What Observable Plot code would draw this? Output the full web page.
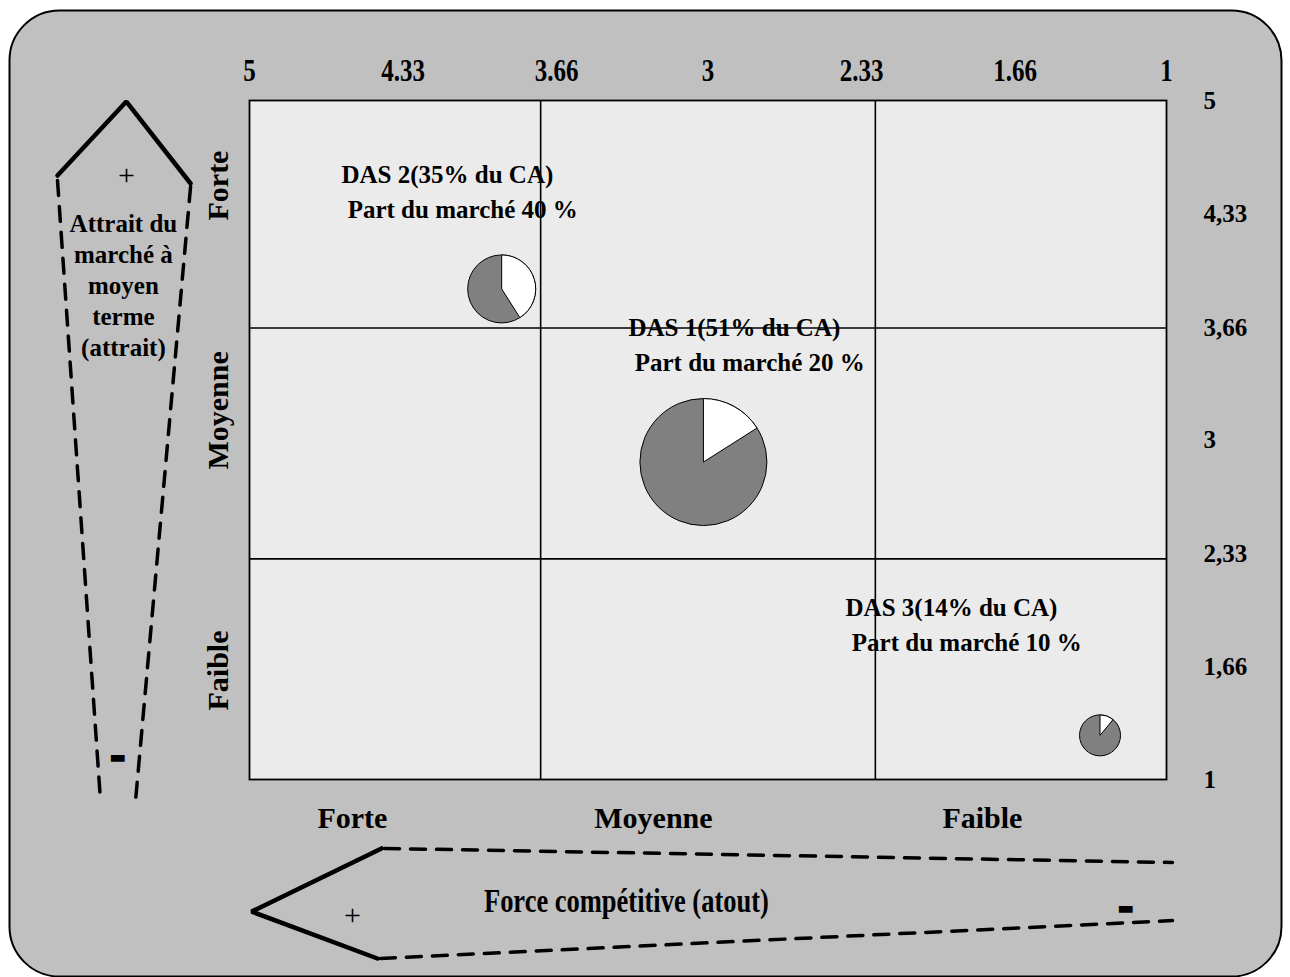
<!DOCTYPE html>
<html><head><meta charset="utf-8">
<script src="https://cdn.jsdelivr.net/npm/d3@7"></script>
<script src="https://cdn.jsdelivr.net/npm/@observablehq/plot@0.6"></script>
<style>body{margin:0;background:#fff}svg{white-space:pre}</style>
</head><body><div id="chart"></div>
<script>
// ---- data ----
const dasNames = ["DAS 1", "DAS 2", "DAS 3"];
const dasCA = [51, 35, 14];                 // % du CA
const dasPart = [20, 40, 10];               // part du marché (label)
const dasForce = [3.02, 3.90, 1.29];        // x : force compétitive
const dasAttrait = [2.87, 3.89, 1.26];      // y : attrait du marché
const dasSlice = [0.16, 0.41, 0.11];        // white slice as drawn
const labelForce = [3.347, 4.599, 2.400];   // annotation anchor (x)
const labelAttrait = [3.757, 4.658, 2.108]; // annotation anchor (y)

const topTicks = [5, 4.33, 3.66, 3, 2.33, 1.66, 1];
const topTickLabels = ["5", "4.33", "3.66", "3", "2.33", "1.66", "1"];
const rightTicks = [5, 4.33, 3.66, 3, 2.33, 1.66, 1];
const rightTickLabels = ["5", "4,33", "3,66", "3", "2,33", "1,66", "1"];
const gridForce = [3.73, 2.27];
const gridAttrait = [3.66, 2.30];

const levels = ["Forte", "Moyenne", "Faible"];
const colLabelForce = [4.551, 3.238, 1.803];
const rowLabelAttrait = [4.499, 3.174, 1.642];

// arrow decorations (in chart units)
const leftSolid = [[5.8375, 4.558], [5.537, 4.994], [5.257, 4.511]];
const leftDashA = [[5.8375, 4.529], [5.650, 0.876]];
const leftDashB = [[5.257, 4.493], [5.497, 0.876]];
const leftPlus = [[5.537, 4.558]];
const leftMinus = [[5.576, 1.130]];
const leftTitle = [[5.550, 4.352]];
const bottomSolid = [[4.424, 0.594], [4.991, 0.222], [4.442, -0.0545]];
const bottomDashA = [[4.411, 0.594], [0.974, 0.511]];
const bottomDashB = [[4.429, -0.0545], [0.974, 0.169]];
const bottomPlus = [[4.551, 0.199]];
const bottomMinus = [[1.179, 0.240]];
const bottomTitle = [[3.356, 0.281]];

const das = dasNames.map((n, i) => ({
  name: n, ca: dasCA[i], part: dasPart[i], x: dasForce[i], y: dasAttrait[i], slice: dasSlice[i],
  lx: labelForce[i], ly: labelAttrait[i]
}));

const wedge = share => ({
  draw(ctx, size) {
    const r = Math.sqrt(size / Math.PI);
    const a0 = -Math.PI / 2, a1 = a0 + 2 * Math.PI * share;
    ctx.moveTo(0, 0);
    ctx.lineTo(0, -r);
    ctx.arc(0, 0, r, a0, a1);
    ctx.closePath();
  }
});

const serif = "'Liberation Serif', 'Times New Roman', serif";

const plot = Plot.plot({
  width: 1290, height: 977,
  marginLeft: 249, marginRight: 124, marginTop: 100, marginBottom: 198,
  x: {domain: [5, 1], axis: null},
  y: {domain: [1, 5], axis: null},
  r: {type: "linear", domain: [14, 35, 51], range: [20.5, 34, 63.5]},
  style: {fontFamily: serif, background: "#fff"},
  marks: [
    Plot.frame({fill: "#c0c0c0", stroke: "black", strokeWidth: 2, rx: 50,
      insetLeft: -240, insetTop: -90, insetRight: -115, insetBottom: -197}),
    Plot.frame({fill: "#ebebeb"}),
    Plot.ruleX(gridForce, {stroke: "black", strokeWidth: 1.6}),
    Plot.ruleY(gridAttrait, {stroke: "black", strokeWidth: 1.6}),
    Plot.frame({stroke: "black", strokeWidth: 1.8}),
    // pies
    Plot.dot(das, {x: "x", y: "y", r: "ca", fill: "#808080", stroke: "black", strokeWidth: 1, className: "pie"}),
    ...das.map(d => Plot.dot([d], {x: "x", y: "y", r: "ca", symbol: wedge(d.slice), fill: "white", stroke: "black", strokeWidth: 1, className: "pie"})),
    // annotations
    Plot.text(das, {x: "lx", y: "ly", text: d => `${d.name}(${d.ca}% du CA)\n\u00a0Part du marché ${d.part} %`,
      textAnchor: "start", lineAnchor: "top", lineHeight: 1.4, fontSize: 25, fontWeight: "bold", fill: "black"}),
    // ticks
    Plot.text(topTicks, {x: d => d, text: (d, i) => topTickLabels[i], frameAnchor: "top", dy: -30,
      lineAnchor: "middle", textAnchor: "middle",
      fontSize: 25, fontWeight: "bold", fill: "black", className: "toptick"}),
    Plot.text(rightTicks, {y: d => d, text: (d, i) => rightTickLabels[i], frameAnchor: "right", dx: 37,
      textAnchor: "start", lineAnchor: "middle", fontSize: 25, fontWeight: "bold", fill: "black"}),
    // level labels
    Plot.text(levels, {x: (d, i) => colLabelForce[i], frameAnchor: "bottom", dy: 39, text: d => d,
      textAnchor: "middle", lineAnchor: "middle",
      fontSize: 30, fontWeight: "bold", fill: "black"}),
    Plot.text(levels, {y: (d, i) => rowLabelAttrait[i], frameAnchor: "left", dx: -31, text: d => d, rotate: -90,
      textAnchor: "middle", lineAnchor: "middle",
      fontSize: 30, fontWeight: "bold", fill: "black"}),
    // left arrow
    Plot.line(leftSolid, {stroke: "black", strokeWidth: 4.5, strokeLinejoin: "miter"}),
    Plot.line(leftDashA, {stroke: "black", strokeWidth: 3.5, strokeDasharray: "15,11"}),
    Plot.line(leftDashB, {stroke: "black", strokeWidth: 3.5, strokeDasharray: "15,11"}),
    Plot.text(leftPlus, {text: () => "+", fontSize: 30, fill: "black"}),
    Plot.text(leftMinus, {text: () => "▬", fontSize: 18, fontFamily: "DejaVu Sans", fill: "black"}),
    Plot.text(leftTitle, {text: () => "Attrait du\nmarché à\nmoyen\nterme\n(attrait)", lineAnchor: "top", lineHeight: 1.24,
      fontSize: 25, fontWeight: "bold", fill: "black"}),
    // bottom arrow
    Plot.line(bottomSolid, {stroke: "black", strokeWidth: 4.5, strokeLinejoin: "miter"}),
    Plot.line(bottomDashA, {stroke: "black", strokeWidth: 3.5, strokeDasharray: "15,11"}),
    Plot.line(bottomDashB, {stroke: "black", strokeWidth: 3.5, strokeDasharray: "15,11"}),
    Plot.text(bottomPlus, {text: () => "+", fontSize: 30, fill: "black"}),
    Plot.text(bottomMinus, {text: () => "▬", fontSize: 18, fontFamily: "DejaVu Sans", fill: "black"}),
    Plot.text(bottomTitle, {text: () => "Force compétitive (atout)", fontSize: 26.5, fontWeight: "bold", fill: "black",
      className: "tall"})
  ]
});
// the reference renders these labels in a taller, condensed style
d3.select(plot).selectAll(".toptick text, .tall text").each(function () {
  const t = this.getAttribute("transform") || "";
  this.setAttribute("transform", t + " scale(1,1.25)");
});
document.getElementById("chart").appendChild(plot);
</script>
</body></html>
